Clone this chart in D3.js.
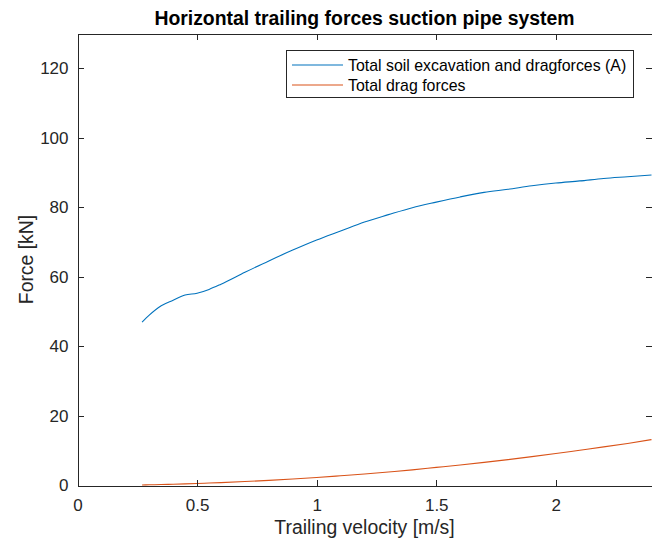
<!DOCTYPE html>
<html>
<head>
<meta charset="utf-8">
<script src="https://cdn.jsdelivr.net/npm/d3@7"></script>
<style>
  html, body { margin: 0; padding: 0; background: #fff; }
  svg { display: block; font-family: "Liberation Sans", Arial, Helvetica, sans-serif; }
</style>
</head>
<body>
<svg id="chart" width="652" height="541"></svg>
<script>
// Trailing velocity [m/s] at which the forces were evaluated
const velocity = [0.27, 0.30, 0.35, 0.40, 0.45, 0.50, 0.55, 0.60, 0.70, 0.80, 0.90, 1.00,
                  1.10, 1.20, 1.30, 1.40, 1.50, 1.60, 1.70, 1.80, 1.90, 2.00, 2.10, 2.20, 2.30, 2.40];
// Total soil excavation and drag forces (A) [kN]
const totalForce = [47.0, 49.0, 51.7, 53.3, 54.8, 55.3, 56.4, 57.9, 61.3, 64.6, 67.7, 70.6,
                    73.2, 75.8, 77.9, 79.9, 81.5, 83.0, 84.3, 85.2, 86.2, 87.0, 87.6, 88.3, 88.8, 89.3];
// Total drag forces [kN]
const dragForce = [0.15, 0.2, 0.28, 0.37, 0.47, 0.58, 0.70, 0.83, 1.13, 1.48, 1.87, 2.3,
                   2.8, 3.32, 3.9, 4.5, 5.2, 5.9, 6.65, 7.45, 8.3, 9.2, 10.15, 11.1, 12.1, 13.2];

const seriesNames = ["Total soil excavation and dragforces (A)", "Total drag forces"];
const seriesColors = ["#0072BD", "#D95319"];
const xTicks = [0, 0.5, 1, 1.5, 2];
const yTicks = [0, 20, 40, 60, 80, 100, 120];

const titleText = "Horizontal trailing forces suction pipe system";
const xLabel = "Trailing velocity [m/s]";
const yLabel = "Force [kN]";

const svg = d3.select("#chart");
const plotLeft = 77.5, plotRight = 651.5, plotTop = 33.5, plotBottom = 485.5;
const axisColor = "#262626";
const tickLen = 6;

const x = d3.scaleLinear().domain([0, 2.4]).range([plotLeft, plotRight]);
const y = d3.scaleLinear().domain([0, 130]).range([plotBottom, plotTop]);

// Series lines
const series = [totalForce, dragForce];
const line = d3.line()
  .x((d, i) => x(velocity[i]))
  .y(d => y(d))
  .curve(d3.curveMonotoneX);
series.forEach((vals, k) => {
  svg.append("path")
    .datum(vals)
    .attr("d", line)
    .attr("fill", "none")
    .attr("stroke", seriesColors[k])
    .attr("stroke-width", 1.1);
});

// Axes: bottom/left with labels, top/right mirrored ticks only
const fmt = d => String(d);
const gB = svg.append("g").attr("transform", `translate(0,${plotBottom})`)
  .call(d3.axisBottom(x).tickValues(xTicks).tickSizeInner(-tickLen).tickSizeOuter(0).tickPadding(13.5).tickFormat(fmt));
const gT = svg.append("g").attr("transform", `translate(0,${plotTop})`)
  .call(d3.axisTop(x).tickValues(xTicks).tickSizeInner(-tickLen).tickSizeOuter(0).tickFormat(""));
const gL = svg.append("g").attr("transform", `translate(${plotLeft},0)`)
  .call(d3.axisLeft(y).tickValues(yTicks).tickSizeInner(-tickLen).tickSizeOuter(0).tickPadding(9).tickFormat(fmt));
const gR = svg.append("g").attr("transform", `translate(${plotRight},0)`)
  .call(d3.axisRight(y).tickValues(yTicks).tickSizeInner(-tickLen).tickSizeOuter(0).tickFormat(""));

[gB, gT, gL, gR].forEach(g => {
  g.selectAll("path.domain").attr("stroke", axisColor).attr("stroke-width", 1).attr("shape-rendering", "crispEdges");
  g.selectAll(".tick line").attr("stroke", axisColor).attr("stroke-width", 1).attr("shape-rendering", "crispEdges");
  g.selectAll(".tick text").attr("fill", axisColor).style("font-size", "17px")
    .style("font-family", "'Liberation Sans', Arial, sans-serif");
});
gB.selectAll(".tick text").attr("dy", "0.71em");

// Axis titles
svg.append("text")
  .attr("x", (plotLeft + plotRight) / 2).attr("y", 534)
  .attr("text-anchor", "middle")
  .attr("fill", axisColor)
  .style("font-size", "19.4px")
  .text(xLabel);

svg.append("text")
  .attr("transform", `translate(33,${(plotTop + plotBottom) / 2}) rotate(-90)`)
  .attr("text-anchor", "middle")
  .attr("fill", axisColor)
  .style("font-size", "19.4px")
  .text(yLabel);

// Title
svg.append("text")
  .attr("x", (plotLeft + plotRight) / 2).attr("y", 25)
  .attr("text-anchor", "middle")
  .attr("fill", "#000")
  .style("font-size", "19.4px")
  .style("font-weight", "bold")
  .text(titleText);

// Legend
const legend = svg.append("g");
legend.append("rect")
  .attr("x", 286.5).attr("y", 50.5).attr("width", 347).attr("height", 47)
  .attr("fill", "#fff").attr("stroke", axisColor).attr("stroke-width", 1)
  .attr("shape-rendering", "crispEdges");
seriesNames.forEach((name, k) => {
  const cy = 65 + k * 20;
  legend.append("line")
    .attr("x1", 292).attr("x2", 343).attr("y1", cy).attr("y2", cy)
    .attr("stroke", seriesColors[k]).attr("stroke-width", 1.1);
  legend.append("text")
    .attr("x", 348).attr("y", cy).attr("dy", "0.35em")
    .attr("fill", "#000")
    .style("font-size", "15.9px")
    .text(name);
});
</script>
</body>
</html>
